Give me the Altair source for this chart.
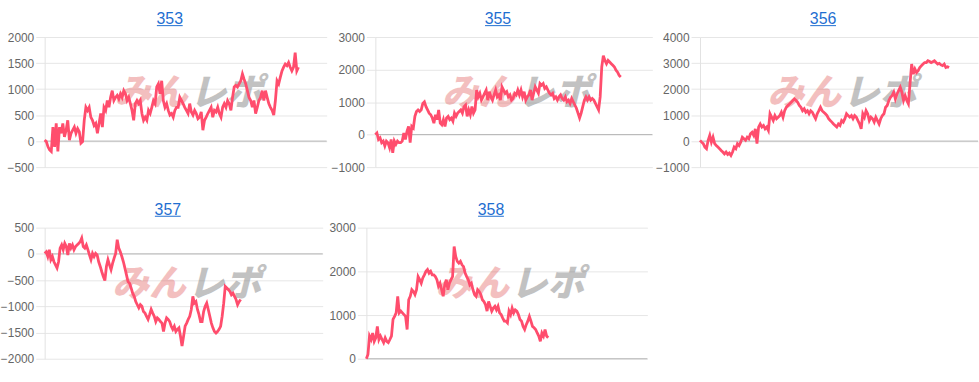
import altair as alt
import pandas as pd

names = ["353", "355", "356", "357", "358"]

v353 = [20, -10, -110, -170, -200, 270, -110, 340, -200, 270,
        150, 340, 80, 210, 400, 20, 150, 210, 270, 150,
        240, 180, -40, -10, 400, 650, 590, 650, 460, 400,
        300, 340, 150, 340, 530, 270, 650, 590, 780, 650,
        840, 970, 780, 840, 880, 810, 910, 840, 970, 910,
        780, 840, 720, 590, 400, 720, 780, 720, 780, 530,
        400, 460, 400, 590, 530, 650, 780, 720, 1040, 1100,
        910, 1160, 780, 650, 720, 590, 500, 530, 460, 590,
        650, 650, 840, 780, 720, 650, 590, 530, 720, 560,
        500, 590, 530, 430, 460, 560, 210, 400, 460, 530,
        590, 650, 460, 590, 560, 650, 530, 460, 650, 720,
        650, 780, 720, 590, 840, 1040, 1070, 1040, 1100, 1160,
        1290, 1190, 1100, 970, 840, 780, 650, 780, 530, 650,
        780, 840, 970, 780, 970, 840, 720, 650, 590, 500,
        780, 1160, 1100, 1230, 1350, 1420, 1480, 1450, 1510, 1420,
        1350, 1420, 1700, 1350, 1420]

v355 = [0, 50, -150, -100, -250, -200, -350, -200, -250, -400,
        -150, -560, -200, -300, -200, -250, -250, -200, 50, -150,
        100, 250, -250, 250, 200, 560, 710, 760, 710, 760,
        960, 1010, 860, 760, 660, 610, 510, 350, 610, 460,
        760, 350, 300, 460, 250, 510, 560, 460, 510, 410,
        660, 560, 660, 710, 760, 660, 860, 910, 560, 760,
        610, 860, 660, 760, 1370, 1160, 1270, 1060, 1160, 1270,
        1370, 1060, 1320, 1160, 1060, 1220, 1370, 1160, 1220, 1060,
        1470, 1370, 1270, 1320, 1160, 1220, 1060, 1110, 1270, 1220,
        1370, 1220, 1370, 1160, 1320, 1060, 1160, 1220, 1370, 1060,
        1270, 1470, 1370, 1270, 1570, 1520, 1570, 1420, 1470, 1370,
        1270, 1220, 1270, 1110, 1160, 1060, 1160, 1220, 1110, 1060,
        1160, 1010, 1060, 960, 1110, 1010, 910, 810, 660, 510,
        660, 860, 1060, 1160, 1060, 1160, 1060, 1110, 1060, 960,
        860, 760, 1160, 2080, 2430, 2280, 2180, 2280, 2230, 2180,
        2130, 2080, 1980, 1920, 1820, 1770]

v356 = [30, -40, -100, -230, -290, 30, 220, -40, 150, -100,
        -170, -230, -290, -360, -420, -490, -420, -510, -460, -550,
        -420, -230, -290, -100, -170, -40, 150, 90, 30, 150,
        90, 280, 340, 220, 470, -100, 540, 660, 540, 600,
        470, 540, 410, 1050, 920, 790, 980, 860, 920, 980,
        1110, 920, 1170, 1300, 1370, 1430, 1490, 1560, 1620, 1560,
        1490, 1370, 1300, 1170, 1240, 1110, 1170, 1050, 1170, 1110,
        980, 860, 1050, 1170, 1300, 1170, 1110, 1050, 980, 860,
        790, 730, 660, 600, 540, 660, 600, 790, 730, 860,
        1050, 980, 920, 980, 860, 980, 920, 790, 660, 470,
        1050, 920, 1170, 1050, 790, 920, 860, 730, 920, 790,
        660, 860, 980, 1050, 1300, 1370, 1560, 1680, 1750, 1880,
        1620, 1810, 1940, 2070, 1880, 1560, 1750, 1560, 1430, 2200,
        2960, 2580, 2770, 2640, 2710, 2830, 2900, 2960, 3020, 3020,
        3090, 3060, 3020, 3050, 3090, 3020, 2960, 2990, 2930, 2900,
        2960, 2830, 2860, 2830]

v357 = [10, 40, -50, 80, -110, -50, -150, -210, -270, -150,
        110, 170, 80, 200, 140, -20, 200, 110, 170, 80,
        140, 170, 200, 230, 300, 140, 110, 170, 80, -20,
        -110, 10, -50, 10, -20, -150, -240, -340, -430, -510,
        -240, -110, -210, -300, -180, -80, 10, 270, 110, 40,
        -50, -150, -270, -400, -530, -560, -650, -750, -810, -910,
        -970, -1030, -970, -1000, -1100, -1130, -1190, -1250, -1160, -1060,
        -1130, -1190, -1290, -1220, -1250, -1290, -1320, -1480, -1320, -1220,
        -1250, -1290, -1380, -1440, -1380, -1480, -1440, -1410, -1570, -1760,
        -1570, -1380, -1320, -1250, -1190, -1060, -810, -940, -910, -1060,
        -1160, -1290, -1290, -1100, -1000, -940, -1060, -1190, -1320, -1410,
        -1480, -1510, -1480, -1440, -1380, -1190, -940, -620, -650, -680,
        -715, -780, -750, -810, -870, -970, -910, -870]

v358 = [0, 100, 520, 440, 590, 400, 480, 740, 440, 520,
        440, 370, 480, 400, 370, 440, 520, 900, 970, 1050,
        1430, 1050, 1090, 1050, 1010, 970, 670, 1350, 1430, 1580,
        1540, 1470, 1580, 1880, 1810, 1730, 1850, 1920, 2000, 2040,
        1960, 2000, 1920, 1920, 1880, 1810, 1660, 1730, 1580, 1430,
        1690, 1810, 1580, 1730, 1810, 1880, 2570, 2340, 2230, 2190,
        2230, 2150, 2110, 1960, 1880, 1810, 1690, 1730, 1580, 1470,
        1430, 1580, 1540, 1470, 1350, 1310, 1240, 1090, 1310, 1200,
        1090, 1160, 1200, 1120, 1200, 1050, 1010, 930, 860, 860,
        820, 1090, 1010, 1160, 1050, 1120, 1090, 1010, 900, 860,
        740, 670, 780, 860, 970, 860, 740, 710, 670, 590,
        520, 400, 590, 520, 670, 520, 480]

series = [v353, v355, v356, v357, v358]
end_frac = [0.900, 0.886, 0.896, 0.705, 0.647]
y_ticks = [(-500, 2000, 500), (-1000, 3000, 1000), (-1000, 4000, 1000),
           (-2000, 500, 500), (0, 3000, 1000)]
widths = [284, 279, 280, 280, 283]
heights = [131, 131, 131, 132, 132]
extents = [41, 48, 47, 45, 43]

LINE = "#ff4d6d"
LINK = "#1f6fd1"
FONT = "Liberation Sans"

one = pd.DataFrame({"k": [0]})


def panel(k):
    vals = series[k]
    n = len(vals)
    lo, hi, step = y_ticks[k]
    w, h = widths[k], heights[k]
    df = pd.DataFrame({"game": list(range(n)), "diff": vals})
    xs = alt.Scale(domain=[0, (n - 1) / end_frac[k]], nice=False, zero=False)
    ys = alt.Scale(domain=[lo, hi], nice=False, zero=False)
    yaxis = alt.Axis(values=list(range(lo, hi + 1, step)), format="d", title=None,
                     minExtent=extents[k], maxExtent=extents[k], labelFlush=False)
    base = alt.Chart(one)
    pin = base.mark_rule(opacity=0).encode(x=alt.value(0), y=alt.value(-36), y2=alt.value(0))
    wm1 = base.mark_text(fontSize=37, font="Noto Sans CJK JP", fontWeight=900,
                         fontStyle="italic", color="#dc3c3c", opacity=0.32,
                         align="right", baseline="middle").encode(
        x=alt.value(w / 2 + 2), y=alt.value(h / 2 - 8), text=alt.value("みん"))
    wm2 = base.mark_text(fontSize=37, font="Noto Sans CJK JP", fontWeight=900,
                         fontStyle="italic", color="#7a7a7a", opacity=0.45,
                         align="left", baseline="middle").encode(
        x=alt.value(w / 2 + 4), y=alt.value(h / 2 - 8), text=alt.value("レポ"))
    zero = alt.Chart(pd.DataFrame({"diff": [0]})).mark_rule(
        color="#b4b4b4", strokeWidth=1).encode(y=alt.Y("diff:Q", scale=ys, axis=yaxis))
    line = alt.Chart(df).mark_line(color=LINE, strokeWidth=2.8, strokeJoin="miter").encode(
        x=alt.X("game:Q", scale=xs, axis=None),
        y=alt.Y("diff:Q", scale=ys, axis=yaxis))
    cx = w / 2 - 16
    title = base.mark_text(fontSize=16, font=FONT, color=LINK, align="center",
                           baseline="alphabetic").encode(
        x=alt.value(cx), y=alt.value(-12.7), text=alt.value(names[k]))
    underline = base.mark_rule(color=LINK, strokeWidth=1).encode(
        x=alt.value(cx - 13), x2=alt.value(cx + 13), y=alt.value(-11.5))
    return alt.layer(pin, wm1, wm2, zero, line, title, underline).properties(width=w, height=h)


top = alt.hconcat(panel(0), panel(1), panel(2), spacing=0)
bottom = alt.hconcat(panel(3), panel(4), spacing=0)

chart = alt.vconcat(top, bottom, spacing=19).properties(
    padding=0, background="white"
).configure_view(stroke=None).configure_axis(
    domainColor="#e2e2e2", gridColor="#e6e6e6", tickColor="#e6e6e6",
    tickSize=9, labelPadding=2, labelColor="#666666", labelFontSize=12,
    labelFont=FONT, grid=True
)

chart.save("out.html", embed_options={"renderer": "svg", "actions": False})
